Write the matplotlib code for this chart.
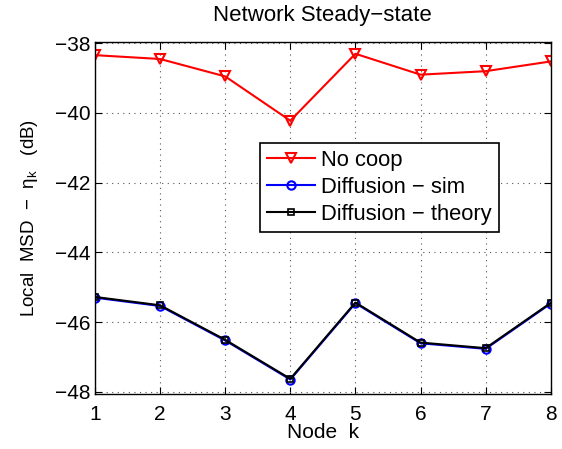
import matplotlib
matplotlib.use("Agg")
import matplotlib.pyplot as plt

plt.rcParams['font.family'] = ['Liberation Sans', 'DejaVu Sans']
plt.rcParams['mathtext.fontset'] = 'custom'
plt.rcParams['mathtext.rm'] = 'Liberation Sans'
plt.rcParams['mathtext.it'] = 'Liberation Sans'

nodes = [1, 2, 3, 4, 5, 6, 7, 8]
no_coop = [-38.34, -38.45, -38.95, -40.22, -38.30, -38.90, -38.80, -38.52]
diff_sim = [-45.30, -45.54, -46.53, -47.65, -45.46, -46.61, -46.77, -45.47]
diff_theory = [-45.28, -45.52, -46.51, -47.63, -45.44, -46.59, -46.75, -45.45]

fig = plt.figure(figsize=(5.62, 4.49), dpi=100)
ax = fig.add_axes([0.169, 0.1225, 0.811, 0.7846])

ax.plot(nodes, no_coop, color='red', lw=1.5, marker='v', ms=7.5,
        mfc='none', mec='red', mew=1.5, label='No coop')
ax.plot(nodes, diff_sim, color='blue', lw=1.5, marker='o', ms=6,
        mfc='none', mec='blue', mew=1.5, label='Diffusion \u2212 sim')
ax.plot(nodes, diff_theory, color='black', lw=1.5, marker='s', ms=5,
        mfc='none', mec='black', mew=1.2, label='Diffusion \u2212 theory')

ax.set_xlim(1, 8)
ax.set_ylim(-48.066, -37.954)
ax.set_xticks(nodes)
ax.set_yticks([-48, -46, -44, -42, -40, -38])
ax.set_yticklabels(['\u221248', '\u221246', '\u221244', '\u221242', '\u221240', '\u221238'])
ax.tick_params(direction='in', labelsize=15, top=True, right=True, length=5, pad=3)
ax.tick_params(axis='x', pad=8)
ax.grid(True, linestyle=(0, (1, 4)), color='#555555', lw=0.8)
for s in ax.spines.values():
    s.set_linewidth(1.0)

ax.set_title('Network Steady\u2212state', fontsize=16, pad=15)
ax.set_xlabel('Node  k', fontsize=15, labelpad=-1)
ax.set_ylabel('Local  MSD  \u2212  $\\eta_\\mathrm{k}$   (dB)', fontsize=13.5, labelpad=11)

leg = ax.legend(loc='upper left', bbox_to_anchor=(0.362, 0.712), fontsize=15.8,
                fancybox=False, framealpha=1, edgecolor='black',
                handlelength=2.2, borderpad=0.3, labelspacing=0.28,
                handletextpad=0.3, borderaxespad=0)
leg.get_frame().set_linewidth(1.2)

fig.savefig('out.png', dpi=100)
